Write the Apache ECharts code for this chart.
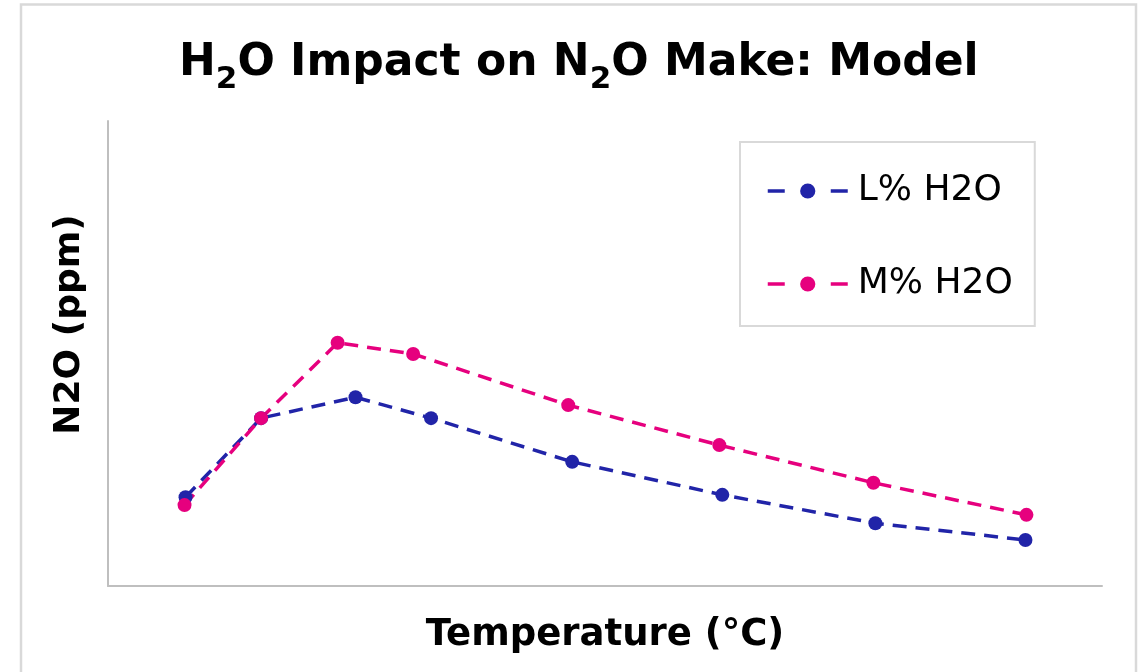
<!DOCTYPE html>
<html>
<head>
<meta charset="utf-8">
<script src="https://cdn.jsdelivr.net/npm/echarts@6/dist/echarts.min.js"></script>
<style>
  html, body { margin: 0; padding: 0; background: #ffffff; }
  #chart { width: 1143px; height: 672px; }
</style>
</head>
<body>
<div id="chart"></div>
<script>
// Temperature positions (arbitrary units, axis has no tick labels)
var tempL = [7.8, 15.4, 24.9, 32.5, 46.7, 61.8, 77.2, 92.3];
var n2oL  = [19.1, 36.1, 40.6, 36.1, 26.7, 19.6, 13.5, 9.9];
var tempM = [7.7, 15.4, 23.1, 30.7, 46.3, 61.5, 77.0, 92.4];
var n2oM  = [17.4, 36.1, 52.3, 49.9, 38.9, 30.3, 22.2, 15.3];
var seriesNames = ['L% H2O', 'M% H2O'];
var seriesColors = ['#2124A8', '#E6007E'];

function pairs(xs, ys) { return xs.map(function (x, i) { return [x, ys[i]]; }); }

var FONT = 'DejaVu Sans';
var chart = echarts.init(document.getElementById('chart'));
var axisCommon = {
  type: 'value', min: 0, max: 100,
  axisLine: { show: true, lineStyle: { color: '#BFBFBF', width: 2 } },
  axisTick: { show: false },
  axisLabel: { show: false },
  splitLine: { show: false }
};
chart.setOption({
  backgroundColor: '#ffffff',
  animation: false,
  graphic: [{
    type: 'rect', silent: true, z: -1,
    shape: { x: 21, y: 4.5, width: 1115, height: 720 },
    style: { fill: 'none', stroke: '#D9D9D9', lineWidth: 2.5 }
  }],
  title: {
    left: 174, top: 37,
    text: '{m|H}{s|2}{m|O Impact on N}{s|2}{m|O Make: Model}',
    textStyle: {
      rich: {
        m: { fontFamily: FONT, fontWeight: 'bold', fontSize: 44, color: '#000', verticalAlign: 'top', lineHeight: 56 },
        s: { fontFamily: FONT, fontWeight: 'bold', fontSize: 31, color: '#000', verticalAlign: 'top', lineHeight: 56, padding: [22, 0, 0, 0] }
      }
    }
  },
  legend: {
    orient: 'vertical',
    left: 740, top: 142,
    padding: [31, 22, 24, 26],
    itemGap: 57,
    itemWidth: 80, itemHeight: 19,
    borderColor: '#D9D9D9', borderWidth: 2,
    lineStyle: { width: 3.5, type: [17, 46] },
    textStyle: { fontFamily: FONT, fontSize: 36, color: '#000', padding: [0, 0, 0, 5] },
    data: seriesNames
  },
  grid: { left: 108, top: 121, right: 41, bottom: 86, containLabel: false },
  xAxis: Object.assign({}, axisCommon, {
    name: 'Temperature (°C)', nameLocation: 'middle', nameGap: 31,
    nameTextStyle: { fontFamily: FONT, fontWeight: 'bold', fontSize: 37, color: '#000' }
  }),
  yAxis: Object.assign({}, axisCommon, {
    name: 'N2O (ppm)', nameLocation: 'middle', nameGap: 20,
    nameTextStyle: { fontFamily: FONT, fontWeight: 'bold', fontSize: 36, color: '#000', padding: [0, 0, 0, 58] }
  }),
  series: [
    {
      name: seriesNames[0], type: 'line', data: pairs(tempL, n2oL),
      symbol: 'circle', symbolSize: 14, color: seriesColors[0],
      lineStyle: { color: seriesColors[0], width: 3.5, type: [14, 9] },
      itemStyle: { color: seriesColors[0] }
    },
    {
      name: seriesNames[1], type: 'line', data: pairs(tempM, n2oM),
      symbol: 'circle', symbolSize: 14, color: seriesColors[1],
      lineStyle: { color: seriesColors[1], width: 3.5, type: [14, 9] },
      itemStyle: { color: seriesColors[1] }
    }
  ]
});
</script>
</body>
</html>
